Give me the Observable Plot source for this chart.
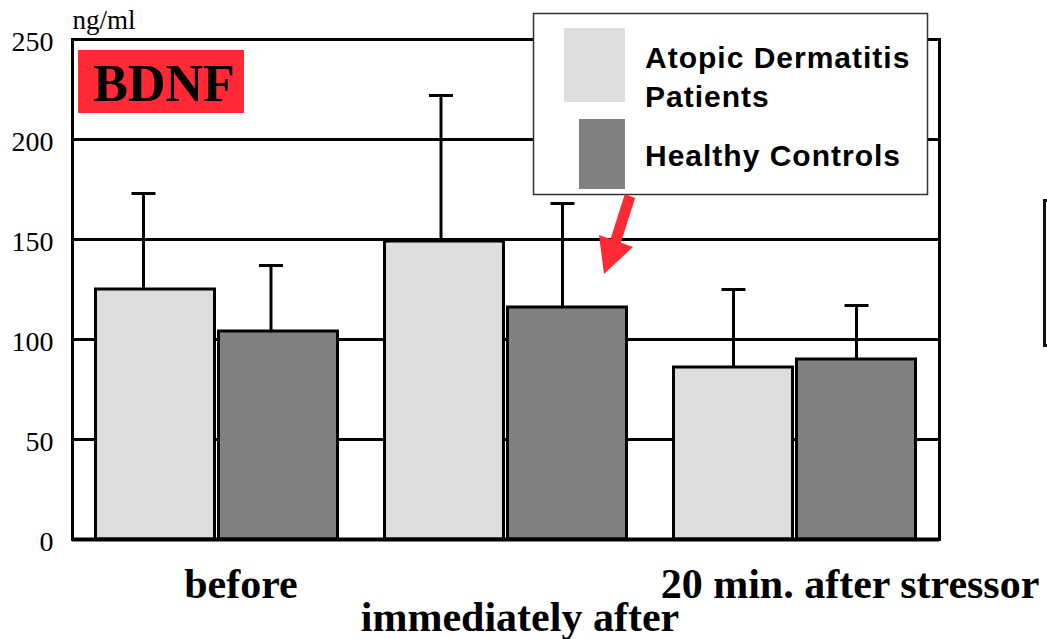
<!DOCTYPE html>
<html><head><meta charset="utf-8">
<script src="https://cdn.jsdelivr.net/npm/d3@7"></script>
<script src="https://cdn.jsdelivr.net/npm/@observablehq/plot@0.6"></script>
<style>
body{margin:0;background:#fff}
#wrap{position:relative;width:1047px;height:639px;overflow:hidden}
#wrap svg.overlay{position:absolute;left:0;top:0;pointer-events:none}
</style>
</head><body><div id="wrap"></div>
<script>
// ---- data ----
const groups = ["before", "immediately after", "20 min. after stressor"];
const seriesNames = [["Atopic Dermatitis", "Patients"], ["Healthy Controls"]];
const seriesColors = ["#dedede", "#808080"];
const adMean = [125, 149, 86];
const adSD   = [48, 73, 39];
const hcMean = [104, 116, 90];
const hcSD   = [33, 52, 27];
const yTicks = [0, 50, 100, 150, 200, 250];
const yUnit = "ng/ml";
const badge = "BDNF";

const ad = groups.map((g, i) => ({group: g, mean: adMean[i], sd: adSD[i]}));
const hc = groups.map((g, i) => ({group: g, mean: hcMean[i], sd: hcSD[i]}));

const serif = "Liberation Serif, Times New Roman, serif";
const sans = "Liberation Sans, Arial, sans-serif";

// styling offsets (pixels)
const labelOffsets = [{dx: 24, dy: 58}, {dx: 14, dy: 91}, {dx: 55, dy: 58}];
const adErrShift = [-12, -3.5, 0];
const hcErrShift = [-7.5, -5, 0];

const errMarks = groups.flatMap((g, i) => {
  const a = ad.filter(d => d.group === g), h = hc.filter(d => d.group === g);
  const sa = adErrShift[i], sh = hcErrShift[i];
  return [
    Plot.ruleX(a, {x: "group", y1: "mean", y2: d => d.mean + d.sd, dx: -61.5 + sa, stroke: "#000", strokeWidth: 3}),
    Plot.ruleX(h, {x: "group", y1: "mean", y2: d => d.mean + d.sd, dx: 61.5 + sh, stroke: "#000", strokeWidth: 3}),
    Plot.tickY(a, {x: "group", y: d => d.mean + d.sd, stroke: "#000", strokeWidth: 3, insetLeft: 71.5 + sa, insetRight: 193.5 - sa}),
    Plot.tickY(h, {x: "group", y: d => d.mean + d.sd, stroke: "#000", strokeWidth: 3, insetLeft: 194.5 + sh, insetRight: 70.5 - sh})
  ];
});

const chart = Plot.plot({
  width: 1047, height: 639,
  marginLeft: 72, marginRight: 108, marginTop: 39, marginBottom: 100,
  style: {background: "transparent", fontFamily: serif, overflow: "visible"},
  x: {type: "band", domain: groups, padding: 0, axis: null},
  y: {domain: [0, 250], axis: null},
  marks: [
    Plot.gridY(yTicks, {stroke: "#000", strokeOpacity: 1, strokeWidth: 3}),
    Plot.barY(ad, {x: "group", y: "mean", fill: seriesColors[0], stroke: "#000", strokeWidth: 3, insetLeft: 23.5, insetRight: 146.5}),
    Plot.barY(hc, {x: "group", y: "mean", fill: seriesColors[1], stroke: "#000", strokeWidth: 3, insetLeft: 146.5, insetRight: 23.5}),
    ...errMarks,
    Plot.frame({stroke: "#000", strokeWidth: 3}),
    Plot.ruleY([0], {stroke: "#000", strokeWidth: 4}),
    Plot.axisY({ticks: yTicks, tickSize: 0, tickPadding: 19, fontSize: 28, fontFamily: serif, fill: "#000", dy: 3, label: null}),
    Plot.text([yUnit], {frameAnchor: "top-left", textAnchor: "start", lineAnchor: "bottom", dy: -11, fontSize: 27, fontFamily: serif, fill: "#000"}),
    ...groups.map((g, i) => Plot.text([g], {x: d => d, frameAnchor: "bottom", textAnchor: "middle", lineAnchor: "bottom",
      dx: labelOffsets[i].dx, dy: labelOffsets[i].dy, fontSize: 42, fontWeight: "bold", fontFamily: serif, fill: "#000"}))
  ]
});
const wrap = document.getElementById("wrap");
wrap.appendChild(chart);

// ---- annotations overlay (legend, badge, arrow) ----
const ov = d3.select(wrap).append("svg").attr("class", "overlay").attr("width", 1047).attr("height", 639);
// badge
ov.append("rect").attr("x", 78).attr("y", 50).attr("width", 166).attr("height", 63).attr("fill", "#ff2a35");
ov.append("text").attr("x", 164).attr("y", 101).attr("text-anchor", "middle").attr("font-family", serif)
  .attr("font-weight", "bold").attr("font-size", 52).attr("fill", "#000").text(badge);
// legend
const lg = ov.append("g");
lg.append("rect").attr("x", 533.5).attr("y", 13.5).attr("width", 394).attr("height", 181).attr("fill", "#fff").attr("stroke", "#333").attr("stroke-width", 1.5);
lg.append("rect").attr("x", 564).attr("y", 28).attr("width", 61).attr("height", 74).attr("fill", seriesColors[0]);
lg.append("rect").attr("x", 579).attr("y", 119).attr("width", 46).attr("height", 70).attr("fill", seriesColors[1]);
const baselines = [[68, 107], [166]];
seriesNames.forEach((lines, s) => lines.forEach((t, j) => {
  lg.append("text").attr("x", 645).attr("y", baselines[s][j]).attr("font-family", sans).attr("font-weight", "bold")
    .attr("font-size", 30).attr("fill", "#000").attr("letter-spacing", 1).text(t);
}));
// arrow
ov.append("line").attr("x1", 630).attr("y1", 196).attr("x2", 615).attr("y2", 243).attr("stroke", "#ff2a35").attr("stroke-width", 11);
ov.append("polygon").attr("points", "599,235 633,247 604,274").attr("fill", "#ff2a35");
// partial box at right edge
ov.append("path").attr("d", "M1047,200.5 H1044.5 V345.5 H1047").attr("fill", "none").attr("stroke", "#111").attr("stroke-width", 3);
</script>
</body></html>
